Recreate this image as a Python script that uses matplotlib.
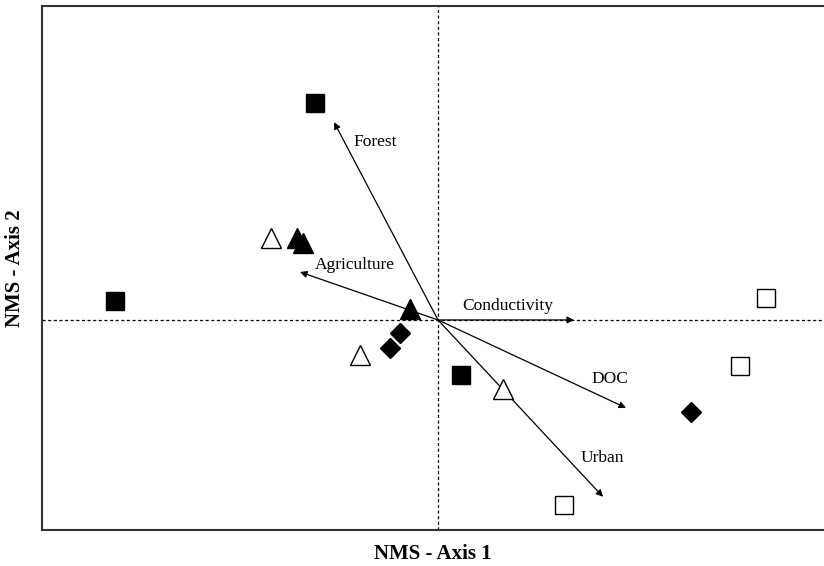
import matplotlib.pyplot as plt

plt.rcParams['font.family'] = ['Liberation Serif', 'DejaVu Serif']

# site scores (NMS axis 1, axis 2)
filled_sq_x = [-0.615, -1.615, 0.115]
filled_sq_y = [1.085, 0.095, -0.275]
open_sq_x = [1.64, 1.51, 0.63]
open_sq_y = [0.11, -0.23, -0.925]
filled_tri_x = [-0.705, -0.675, -0.14]
filled_tri_y = [0.41, 0.385, 0.055]
open_tri_x = [-0.835, -0.39, 0.325]
open_tri_y = [0.41, -0.175, -0.345]
diam_x = [-0.19, -0.24, 1.265]
diam_y = [-0.065, -0.14, -0.46]

# environmental vectors
vec_names = ['Forest', 'Agriculture', 'Conductivity', 'DOC', 'Urban']
vec_x = [-0.52, -0.69, 0.68, 0.94, 0.825]
vec_y = [0.99, 0.24, 0.0, -0.44, -0.885]
lab_x = [-0.315, -0.415, 0.35, 0.86, 0.82]
lab_y = [0.89, 0.275, 0.07, -0.295, -0.69]

fig = plt.figure(figsize=(8.24, 5.66), dpi=100)
ax = fig.add_axes([0.051, 0.064, 0.949, 0.925])

ax.axhline(0, color='black', lw=0.9, ls=(0, (2.5, 2)), zorder=1)
ax.axvline(0, color='black', lw=0.9, ls=(0, (2.5, 2)), zorder=1)

for i in range(len(vec_names)):
    ax.annotate('', xy=(vec_x[i], vec_y[i]), xytext=(0, 0),
                arrowprops=dict(arrowstyle='-|>', lw=0.9, color='black',
                                mutation_scale=10, shrinkA=0, shrinkB=0),
                zorder=2)
    ax.text(lab_x[i], lab_y[i], vec_names[i], ha='center', va='center', fontsize=12.5)

ax.plot(filled_sq_x, filled_sq_y, 's', ms=13, mfc='black', mec='black', mew=1, ls='none', zorder=3)
ax.plot(open_sq_x, open_sq_y, 's', ms=13, mfc='white', mec='black', mew=1, ls='none', zorder=3)
ax.plot(filled_tri_x, filled_tri_y, '^', ms=14, mfc='black', mec='black', mew=1, ls='none', zorder=3)
ax.plot(open_tri_x, open_tri_y, '^', ms=14, mfc='white', mec='black', mew=1, ls='none', zorder=3)
ax.plot(diam_x, diam_y, 'D', ms=10, mfc='black', mec='black', mew=1, ls='none', zorder=3)

ax.set_xlim(-1.98, 1.93)
ax.set_ylim(-1.05, 1.57)
ax.set_xticks([])
ax.set_yticks([])
ax.spines['right'].set_visible(False)
for s in ['left', 'top', 'bottom']:
    ax.spines[s].set_linewidth(1.5)
    ax.spines[s].set_color('#333333')

ax.set_xlabel('NMS - Axis 1', fontsize=15, fontweight='bold', labelpad=10)
ax.set_ylabel('NMS - Axis 2', fontsize=15, fontweight='bold', labelpad=12)

fig.savefig('out.png', dpi=100)
